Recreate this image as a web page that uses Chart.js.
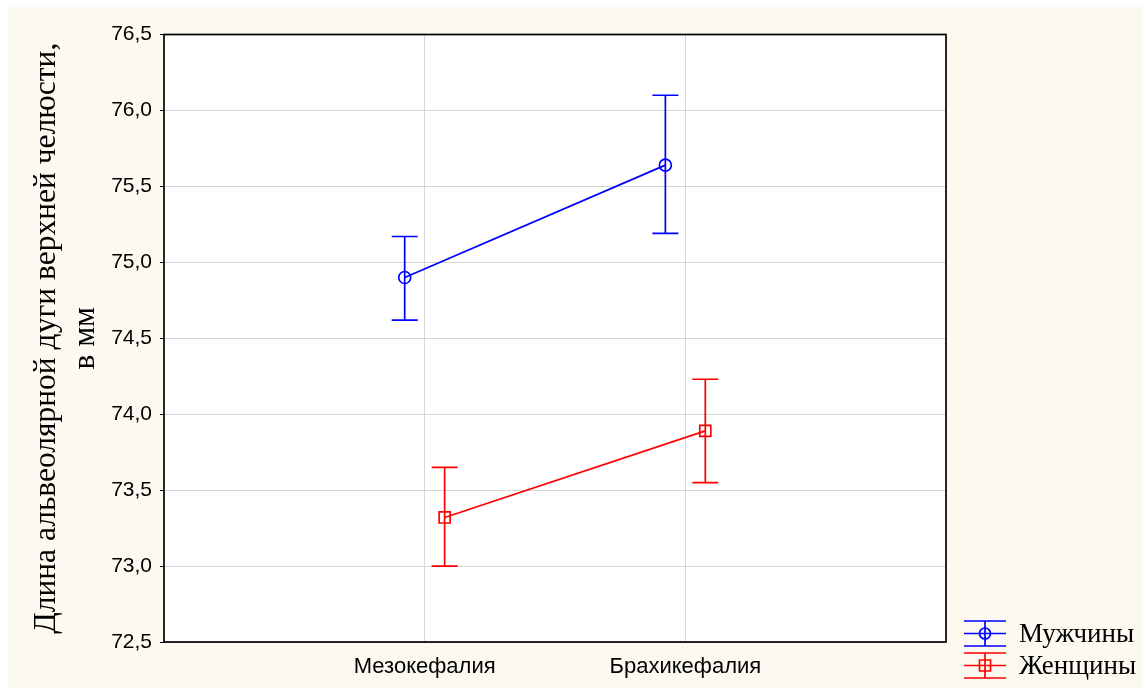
<!DOCTYPE html>
<html>
<head>
<meta charset="utf-8">
<script src="https://cdn.jsdelivr.net/npm/chart.js@4/dist/chart.umd.min.js"></script>
<style>
html,body{margin:0;padding:0;background:#ffffff;}
canvas{display:block;}
</style>
</head>
<body>
<canvas id="c" width="1143" height="688"></canvas>
<script>
const categories = ['Мезокефалия', 'Брахикефалия'];
const seriesNames = ['Мужчины', 'Женщины'];
const menMean = [74.90, 75.64];
const menLow = [74.62, 75.19];
const menHigh = [75.17, 76.10];
const womenMean = [73.32, 73.89];
const womenLow = [73.00, 73.55];
const womenHigh = [73.65, 74.23];
const yTicks = [72.5, 73.0, 73.5, 74.0, 74.5, 75.0, 75.5, 76.0, 76.5];
const yTitle = ['Длина альвеолярной дуги верхней челюсти,', 'в мм'];

const OFFSET = 0.0766;
const catPos = categories.map((c, i) => i + 1);

function pts(mean, shift) {
  return mean.map((v, i) => ({x: catPos[i] + shift, y: v}));
}

const errorBars = [
  {low: menLow, high: menHigh},
  {low: womenLow, high: womenHigh}
];

const bgPlugin = {
  id: 'bg',
  beforeDraw(chart) {
    const {ctx, chartArea: a} = chart;
    ctx.save();
    ctx.fillStyle = '#ffffff';
    ctx.fillRect(0, 0, chart.width, chart.height);
    ctx.fillStyle = '#fcf9f0';
    ctx.fillRect(8, 7, chart.width - 8, chart.height - 7);
    ctx.fillStyle = '#ffffff';
    ctx.fillRect(a.left, a.top, a.right - a.left, a.bottom - a.top);
    ctx.restore();
  }
};

const errPlugin = {
  id: 'err',
  afterDatasetsDraw(chart) {
    const {ctx} = chart;
    const ys = chart.scales.y;
    chart.data.datasets.forEach((ds, di) => {
      const meta = chart.getDatasetMeta(di);
      const eb = errorBars[di];
      ctx.save();
      ctx.strokeStyle = ds.borderColor;
      ctx.lineWidth = 1.7;
      meta.data.forEach((el, i) => {
        const x = el.x;
        const yl = ys.getPixelForValue(eb.low[i]);
        const yh = ys.getPixelForValue(eb.high[i]);
        ctx.beginPath();
        ctx.moveTo(x, yl); ctx.lineTo(x, yh);
        ctx.moveTo(x - 13, yl); ctx.lineTo(x + 13, yl);
        ctx.moveTo(x - 13, yh); ctx.lineTo(x + 13, yh);
        ctx.stroke();
      });
      ctx.restore();
    });
  },
  afterDraw(chart) {
    const {ctx, chartArea: a} = chart;
    ctx.save();
    ctx.strokeStyle = '#000000';
    ctx.lineWidth = 1.7;
    ctx.strokeRect(a.left, a.top, a.right - a.left, a.bottom - a.top);
    // legend
    const items = chart.data.datasets;
    items.forEach((ds, i) => {
      const cy = 633.5 + i * 32;
      const x0 = 964, x1 = 1006, cx = 985;
      ctx.strokeStyle = ds.borderColor;
      ctx.lineWidth = 1.7;
      ctx.beginPath();
      ctx.moveTo(x0, cy - 12.5); ctx.lineTo(x1, cy - 12.5);
      ctx.moveTo(x0, cy); ctx.lineTo(x1, cy);
      ctx.moveTo(x0, cy + 12.5); ctx.lineTo(x1, cy + 12.5);
      ctx.moveTo(cx, cy - 12.5); ctx.lineTo(cx, cy + 12.5);
      ctx.stroke();
      ctx.beginPath();
      if (i === 0) {
        ctx.arc(cx, cy, 5.5, 0, Math.PI * 2);
      } else {
        ctx.rect(cx - 5.5, cy - 5.5, 11, 11);
      }
      ctx.stroke();
      ctx.fillStyle = '#000000';
      ctx.font = '27px "Liberation Serif", serif';
      ctx.textBaseline = 'middle';
      ctx.textAlign = 'left';
      ctx.fillText(ds.label, 1019, cy + 1);
    });
    ctx.restore();
  }
};

new Chart(document.getElementById('c'), {
  type: 'line',
  data: {
    datasets: [
      {
        label: seriesNames[0],
        data: pts(menMean, -OFFSET),
        borderColor: '#0000ff',
        backgroundColor: 'transparent',
        borderWidth: 1.7,
        pointStyle: 'circle',
        pointRadius: 6,
        pointBorderWidth: 1.7,
        pointBackgroundColor: 'transparent',
        pointBorderColor: '#0000ff',
        tension: 0
      },
      {
        label: seriesNames[1],
        data: pts(womenMean, OFFSET),
        borderColor: '#ff0000',
        backgroundColor: 'transparent',
        borderWidth: 1.7,
        pointStyle: 'rect',
        pointRadius: 7.8,
        pointBorderWidth: 1.7,
        pointBackgroundColor: 'transparent',
        pointBorderColor: '#ff0000',
        tension: 0
      }
    ]
  },
  options: {
    responsive: false,
    animation: false,
    events: [],
    layout: {padding: {top: 34.5, right: 197, bottom: 0, left: 0}},
    plugins: {legend: {display: false}, tooltip: {enabled: false}},
    scales: {
      x: {
        type: 'linear',
        min: 0,
        max: 3,
        afterBuildTicks(scale) {
          scale.ticks = catPos.map(v => ({value: v}));
        },
        afterFit(scale) { scale.height = 46; },
        border: {display: false},
        grid: {color: '#d6d6d6', lineWidth: 1, drawTicks: false},
        ticks: {
          padding: 12,
          color: '#000000',
          font: {family: '"Liberation Sans", Arial, sans-serif', size: 22},
          callback: (v) => categories[Math.round(v) - 1] || ''
        }
      },
      y: {
        type: 'linear',
        min: yTicks[0],
        max: yTicks[yTicks.length - 1],
        afterBuildTicks(scale) {
          scale.ticks = yTicks.map(v => ({value: v}));
        },
        afterFit(scale) { scale.width = 164; },
        border: {display: false},
        grid: {color: '#d6d6d6', lineWidth: 1, tickColor: '#000000', tickLength: 4},
        ticks: {
          padding: 8,
          color: '#000000',
          font: {family: '"Liberation Sans", Arial, sans-serif', size: 21},
          callback: (v) => v.toFixed(1).replace('.', ',')
        },
        title: {
          display: true,
          text: yTitle,
          color: '#000000',
          padding: {top: 27, bottom: 0},
          font: {family: '"Liberation Serif", "Times New Roman", serif', size: 31.5, lineHeight: 1.25}
        }
      }
    }
  },
  plugins: [bgPlugin, errPlugin]
});
</script>
</body>
</html>
